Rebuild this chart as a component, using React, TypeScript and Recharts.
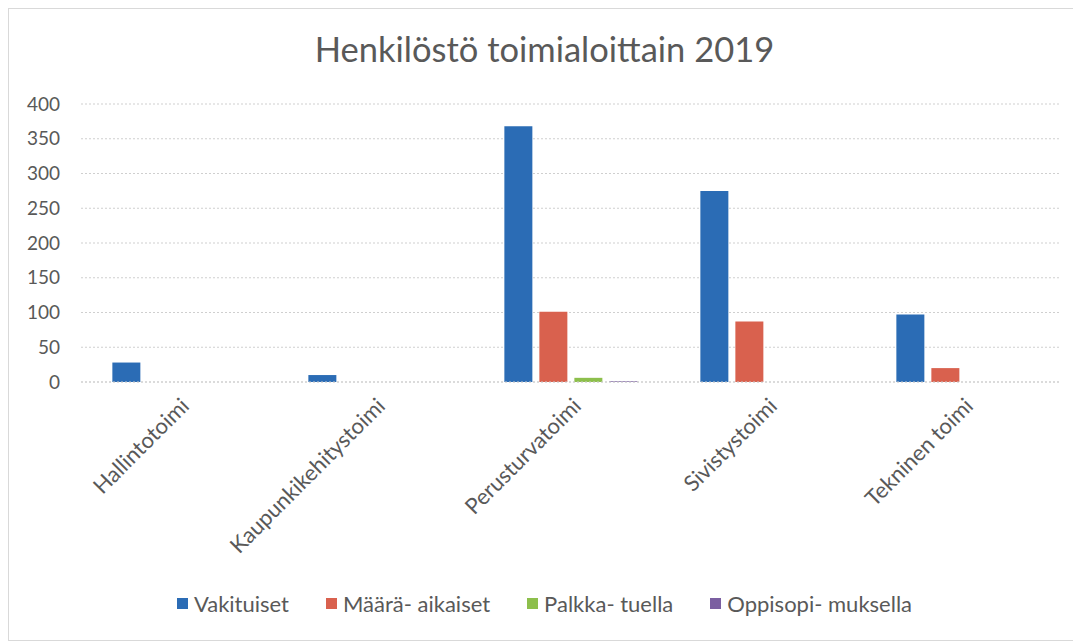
import React from "react";
import { BarChart, Bar, XAxis, YAxis, CartesianGrid } from "recharts";

const categories = ["Hallintotoimi", "Kaupunkikehitystoimi", "Perusturvatoimi", "Sivistystoimi", "Tekninen toimi"];
const vakituiset = [28, 10, 368, 275, 97];
const maaraaikaiset = [0, 0, 101, 87, 20];
const palkkatuella = [0, 0, 6, 0, 0];
const oppisopimuksella = [0, 0, 1, 0, 0];
const yTicks = [0, 50, 100, 150, 200, 250, 300, 350, 400];

const seriesNames = ["Vakituiset", "Määrä- aikaiset", "Palkka- tuella", "Oppisopi- muksella"];
const seriesKeys = ["v", "m", "p", "o"];
const colors = ["#2B6CB5", "#D9614E", "#8DBF4C", "#7B5FA1"];

const data = categories.map((c, i) => ({
  name: c,
  v: vakituiset[i],
  m: maaraaikaiset[i],
  p: palkkatuella[i],
  o: oppisopimuksella[i],
}));

const FONT = "Lato, 'Open Sans', sans-serif";
const TEXT = "#595959";

const XTick = (props: any) => {
  const { x, y, payload } = props;
  return (
    <g transform={`translate(${x + 6},${y + 12})`}>
      <text
        x={0}
        y={0}
        textAnchor="end"
        transform="rotate(-45)"
        fill={TEXT}
        fontSize={22}
        fontFamily={FONT}
        dy="0.35em"
      >
        {payload.value}
      </text>
    </g>
  );
};

const Legend = () => (
  <div
    style={{
      position: "absolute",
      left: 0,
      width: "100%",
      top: 581,
      display: "flex",
      justifyContent: "center",
      gap: 37,
      fontFamily: FONT,
      fontSize: 22,
      color: TEXT,
    }}
  >
    {seriesNames.map((n, i) => (
      <div key={n} style={{ display: "flex", alignItems: "center" }}>
        <span style={{ width: 11, height: 11, background: colors[i], marginRight: 6, display: "inline-block" }} />
        <span>{n}</span>
      </div>
    ))}
  </div>
);

export default function App() {
  return (
    <div
      style={{
        position: "relative",
        width: 1071,
        height: 631,
        border: "1px solid #d9d9d9",
        background: "#fff",
      }}
    >
      <div
        style={{
          position: "absolute",
          top: 19,
          left: 0,
          width: "100%",
          textAlign: "center",
          fontFamily: FONT,
          fontSize: 34.5,
          color: TEXT,
        }}
      >
        Henkilöstö toimialoittain 2019
      </div>
      <BarChart
        width={1071}
        height={631}
        data={data}
        margin={{ top: 95, right: 19, left: 0, bottom: 0 }}
        barCategoryGap="16%"
        barGap={7}
      >
        <CartesianGrid vertical={false} stroke="#cfcfcf" strokeDasharray="2 2" />
        <XAxis
          dataKey="name"
          height={258}
          tick={<XTick />}
          tickLine={false}
          axisLine={{ stroke: "#cfcfcf", strokeDasharray: "2 2" }}
          interval={0}
        />
        <YAxis
          width={72}
          domain={[0, 400]}
          ticks={yTicks}
          tickLine={false}
          axisLine={false}
          tickSize={0}
          tickMargin={21}
          tick={{ fill: TEXT, fontSize: 19, fontFamily: FONT }}
        />
        {seriesKeys.map((k, i) => (
          <Bar key={k} dataKey={k} name={seriesNames[i]} fill={colors[i]} isAnimationActive={false} />
        ))}
      </BarChart>
      <Legend />
    </div>
  );
}
